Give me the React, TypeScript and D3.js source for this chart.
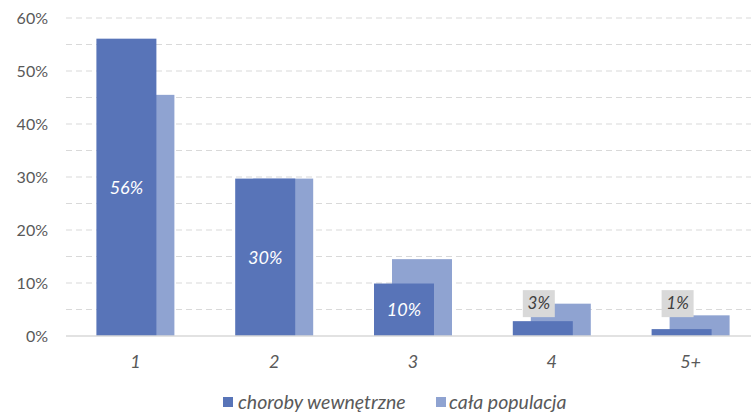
import React from "react";
import * as d3 from "d3";

const categories = ["1", "2", "3", "4", "5+"];
const chorobyValues = [56.1, 29.7, 9.9, 2.8, 1.3];
const populacjaValues = [45.5, 29.7, 14.5, 6.1, 3.9];
const dataLabels = ["56%", "30%", "10%", "3%", "1%"];
const yTicks = [0, 10, 20, 30, 40, 50, 60];
const gridTicks = [5, 10, 15, 20, 25, 30, 35, 40, 45, 50, 55, 60];
const seriesNames = ["choroby wewnętrzne", "cała populacja"];

const W = 751;
const H = 413;
const DARK = "#5874b8";
const LIGHT = "#8fa3d1";
const TEXT = "#595959";
const FONT = "Lato, 'Open Sans', sans-serif";

export default function App() {
  const x = d3.scaleBand<string>().domain(categories).range([66, 760]);
  const y = d3.scaleLinear().domain([0, 60]).range([336, 18]);
  const barW = 60;
  const offset = 18;

  return (
    <div style={{ position: "absolute", left: 0, top: 0 }}>
      <svg width={W} height={H} style={{ display: "block", background: "#fff" }}>
        {gridTicks.map((t) => (
          <line key={t} x1={66} x2={W} y1={y(t)} y2={y(t)} stroke="#d9d9d9" strokeWidth={1} strokeDasharray="6,4" />
        ))}
        {yTicks.map((t) => (
          <text key={t} x={48} y={y(t)} dy="0.35em" textAnchor="end" fontFamily={FONT} fontSize={16} fill={TEXT}>
            {t}%
          </text>
        ))}
        {categories.map((c, i) => {
          const cx = x(c)! + x.bandwidth() / 2;
          const dx0 = cx - (barW + offset) / 2;
          return (
            <g key={c}>
              <rect x={dx0 + offset} y={y(populacjaValues[i])} width={barW} height={y(0) - y(populacjaValues[i])} fill={LIGHT} />
              <rect x={dx0} y={y(chorobyValues[i])} width={barW} height={y(0) - y(chorobyValues[i])} fill={DARK} />
            </g>
          );
        })}
        <line x1={66} x2={W} y1={y(0)} y2={y(0)} stroke="#d9d9d9" strokeWidth={1.5} />
        {categories.map((c, i) => {
          const cx = x(c)! + x.bandwidth() / 2;
          const dx0 = cx - (barW + offset) / 2;
          const bc = dx0 + barW / 2;
          const v = chorobyValues[i];
          if (v > 8) {
            const my = (y(v) + y(0)) / 2;
            return (
              <text key={c} x={bc} y={my} dy="0.35em" textAnchor="middle" fontFamily={FONT} fontStyle="italic" fontSize={18} fill="#fff">
                {dataLabels[i]}
              </text>
            );
          }
          const ly = y(6.2);
          return (
            <g key={c}>
              <rect x={bc - 20} y={ly - 13} width={32} height={27} fill="#d9d9d9" />
              <text x={bc - 4} y={ly} dy="0.35em" textAnchor="middle" fontFamily={FONT} fontStyle="italic" fontSize={17} fill="#404040">
                {dataLabels[i]}
              </text>
            </g>
          );
        })}
        {categories.map((c) => (
          <text key={c} x={x(c)! + x.bandwidth() / 2} y={362} dy="0.35em" textAnchor="middle" fontFamily={FONT} fontStyle="italic" fontSize={18} fill={TEXT}>
            {c}
          </text>
        ))}
        <rect x={223} y={397} width={10} height={10} fill={DARK} />
        <text x={238} y={402} dy="0.35em" fontFamily={FONT} fontStyle="italic" fontSize={19.5} fill={TEXT}>
          {seriesNames[0]}
        </text>
        <rect x={436} y={397} width={10} height={10} fill={LIGHT} />
        <text x={449} y={402} dy="0.35em" fontFamily={FONT} fontStyle="italic" fontSize={19.5} fill={TEXT}>
          {seriesNames[1]}
        </text>
      </svg>
    </div>
  );
}
